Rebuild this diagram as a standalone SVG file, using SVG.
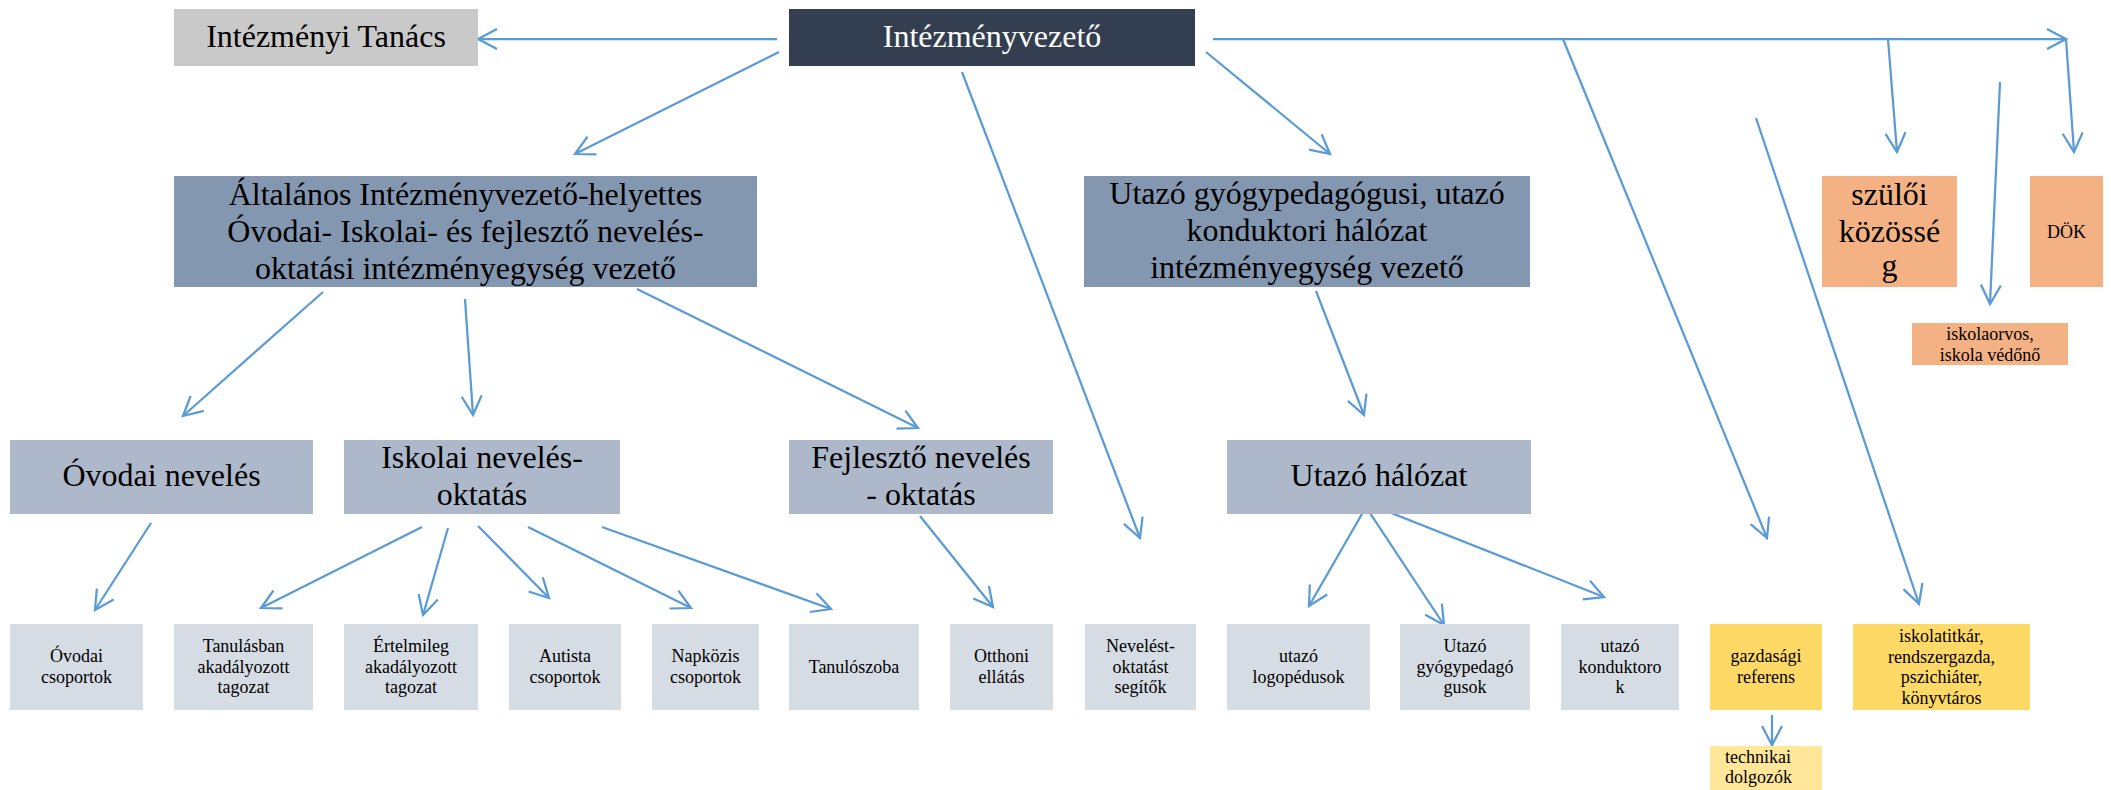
<svg xmlns="http://www.w3.org/2000/svg" width="2111" height="790" viewBox="0 0 2111 790">
<style>
text{font-family:"Liberation Serif","Times New Roman",serif;fill:#000;text-anchor:middle}
.big{font-size:32px}
.sm{font-size:18px}
.w{fill:#fff}
.c{fill:none;stroke:#5B9BD5;stroke-width:2.25}
.dark{fill:#333F50}
.gray{fill:#C9C9C9}
.l1{fill:#8497B0}
.l2{fill:#ADB9CA}
.l3{fill:#D6DCE4}
.or{fill:#F4B183}
.ye{fill:#FFD966}
.ly{fill:#FFE699}
</style>
<defs>
<marker id="arr" markerUnits="userSpaceOnUse" viewBox="-22 -12 25 24" markerWidth="25" markerHeight="24" refX="0" refY="0" orient="auto">
<path d="M-19,-10 L0,0 L-19,10" fill="none" stroke="#5B9BD5" stroke-width="2.25"/>
</marker>
</defs>
<rect width="2111" height="790" fill="#fff"/>
<g id="connectors" class="c">
<path d="M777,39 L478,39" marker-end="url(#arr)"/>
<path d="M779,52 L575,154" marker-end="url(#arr)"/>
<path d="M1213,39 L2066,39" marker-end="url(#arr)"/>
<path d="M1888,39 L1897,152" marker-end="url(#arr)"/>
<path d="M2066,39 L2074,152" marker-end="url(#arr)"/>
<path d="M1563,39 L1767,538" marker-end="url(#arr)"/>
<path d="M1206,52 L1330,154" marker-end="url(#arr)"/>
<path d="M962,72 L1140,538" marker-end="url(#arr)"/>
<path d="M2000,82 L1990,304" marker-end="url(#arr)"/>
<path d="M1756,118 L1919,604" marker-end="url(#arr)"/>
<path d="M1316,291 L1364,415" marker-end="url(#arr)"/>
<path d="M323,292 L183,416" marker-end="url(#arr)"/>
<path d="M465,299 L473,415" marker-end="url(#arr)"/>
<path d="M637,289 L918,428" marker-end="url(#arr)"/>
<path d="M151,523 L95,610" marker-end="url(#arr)"/>
<path d="M422,527 L261,608" marker-end="url(#arr)"/>
<path d="M448,528 L423,615" marker-end="url(#arr)"/>
<path d="M478,526 L549,598" marker-end="url(#arr)"/>
<path d="M528,527 L691,608" marker-end="url(#arr)"/>
<path d="M602,527 L831,609" marker-end="url(#arr)"/>
<path d="M920,516 L993,607" marker-end="url(#arr)"/>
<path d="M1366,507 L1309,606" marker-end="url(#arr)"/>
<path d="M1366,507 L1444,625" marker-end="url(#arr)"/>
<path d="M1366,503 L1604,597" marker-end="url(#arr)"/>
<path d="M1772,715 L1772,745" marker-end="url(#arr)"/>
</g>
<g id="intezmenyi-tanacs"><rect class="gray" x="174" y="9" width="304" height="57"/><text class="big" x="326" y="47">Intézményi Tanács</text></g>
<g id="intezmenyvezeto"><rect class="dark" x="789" y="9" width="406" height="57"/><text class="big w" x="992" y="47">Intézményvezető</text></g>
<g id="altalanos"><rect class="l1" x="174" y="176" width="583" height="111"/><text class="big" x="465.5"><tspan x="465.5" y="205">Általános Intézményvezető-helyettes</tspan><tspan x="465.5" y="242">Óvodai- Iskolai- és fejlesztő nevelés-</tspan><tspan x="465.5" y="279">oktatási intézményegység vezető</tspan></text></g>
<g id="utazo-vezeto"><rect class="l1" x="1084" y="176" width="446" height="111"/><text class="big" x="1307"><tspan x="1307" y="204">Utazó gyógypedagógusi, utazó</tspan><tspan x="1307" y="241">konduktori hálózat</tspan><tspan x="1307" y="278">intézményegység vezető</tspan></text></g>
<g id="szuloi"><rect class="or" x="1822" y="176" width="135" height="111"/><text class="big" x="1889.5"><tspan x="1889.5" y="205">szülői</tspan><tspan x="1889.5" y="242">közössé</tspan><tspan x="1889.5" y="276">g</tspan></text></g>
<g id="dok"><rect class="or" x="2030" y="176" width="73" height="111"/><text class="sm" x="2066.5" y="238">DÖK</text></g>
<g id="iskolaorvos"><rect class="or" x="1912" y="323" width="156" height="42"/><text class="sm" x="1990"><tspan x="1990" y="340">iskolaorvos,</tspan><tspan x="1990" y="361">iskola védőnő</tspan></text></g>
<g id="ovodai-neveles"><rect class="l2" x="10" y="440" width="303" height="74"/><text class="big" x="161.5" y="486">Óvodai nevelés</text></g>
<g id="iskolai"><rect class="l2" x="344" y="440" width="276" height="74"/><text class="big" x="482"><tspan x="482" y="468">Iskolai nevelés-</tspan><tspan x="482" y="505">oktatás</tspan></text></g>
<g id="fejleszto"><rect class="l2" x="789" y="440" width="264" height="74"/><text class="big" x="921"><tspan x="921" y="468">Fejlesztő nevelés</tspan><tspan x="921" y="505">- oktatás</tspan></text></g>
<g id="utazo-halozat"><rect class="l2" x="1227" y="440" width="304" height="74"/><text class="big" x="1379" y="486">Utazó hálózat</text></g>
<g id="ovodai-csoportok"><rect class="l3" x="10" y="624" width="133" height="86"/><text class="sm" x="76.5"><tspan x="76.5" y="662">Óvodai</tspan><tspan x="76.5" y="683">csoportok</tspan></text></g>
<g id="tanulasban"><rect class="l3" x="174" y="624" width="139" height="86"/><text class="sm" x="243.5"><tspan x="243.5" y="652">Tanulásban</tspan><tspan x="243.5" y="673">akadályozott</tspan><tspan x="243.5" y="693">tagozat</tspan></text></g>
<g id="ertelmileg"><rect class="l3" x="344" y="624" width="134" height="86"/><text class="sm" x="411"><tspan x="411" y="652">Értelmileg</tspan><tspan x="411" y="673">akadályozott</tspan><tspan x="411" y="693">tagozat</tspan></text></g>
<g id="autista"><rect class="l3" x="509" y="624" width="112" height="86"/><text class="sm" x="565"><tspan x="565" y="662">Autista</tspan><tspan x="565" y="683">csoportok</tspan></text></g>
<g id="napkozis"><rect class="l3" x="652" y="624" width="107" height="86"/><text class="sm" x="705.5"><tspan x="705.5" y="662">Napközis</tspan><tspan x="705.5" y="683">csoportok</tspan></text></g>
<g id="tanuloszoba"><rect class="l3" x="789" y="624" width="130" height="86"/><text class="sm" x="854" y="673">Tanulószoba</text></g>
<g id="otthoni"><rect class="l3" x="950" y="624" width="103" height="86"/><text class="sm" x="1001.5"><tspan x="1001.5" y="662">Otthoni</tspan><tspan x="1001.5" y="683">ellátás</tspan></text></g>
<g id="nevelest"><rect class="l3" x="1085" y="624" width="111" height="86"/><text class="sm" x="1140.5"><tspan x="1140.5" y="652">Nevelést-</tspan><tspan x="1140.5" y="673">oktatást</tspan><tspan x="1140.5" y="693">segítők</tspan></text></g>
<g id="logopedusok"><rect class="l3" x="1227" y="624" width="143" height="86"/><text class="sm" x="1298.5"><tspan x="1298.5" y="662">utazó</tspan><tspan x="1298.5" y="683">logopédusok</tspan></text></g>
<g id="gyogypedagogusok"><rect class="l3" x="1400" y="624" width="130" height="86"/><text class="sm" x="1465"><tspan x="1465" y="652">Utazó</tspan><tspan x="1465" y="673">gyógypedagó</tspan><tspan x="1465" y="693">gusok</tspan></text></g>
<g id="konduktorok"><rect class="l3" x="1561" y="624" width="118" height="86"/><text class="sm" x="1620"><tspan x="1620" y="652">utazó</tspan><tspan x="1620" y="673">konduktoro</tspan><tspan x="1620" y="693">k</tspan></text></g>
<g id="gazdasagi"><rect class="ye" x="1710" y="624" width="112" height="86"/><text class="sm" x="1766"><tspan x="1766" y="662">gazdasági</tspan><tspan x="1766" y="683">referens</tspan></text></g>
<g id="iskolatitkar"><rect class="ye" x="1853" y="624" width="177" height="86"/><text class="sm" x="1941.5"><tspan x="1941.5" y="642">iskolatitkár,</tspan><tspan x="1941.5" y="663">rendszergazda,</tspan><tspan x="1941.5" y="683">pszichiáter,</tspan><tspan x="1941.5" y="704">könyvtáros</tspan></text></g>
<g id="technikai"><rect class="ly" x="1710" y="746" width="112" height="44"/><text class="sm" style="text-anchor:start" x="1725"><tspan x="1725" y="763">technikai</tspan><tspan x="1725" y="783">dolgozók</tspan></text></g>
</svg>
